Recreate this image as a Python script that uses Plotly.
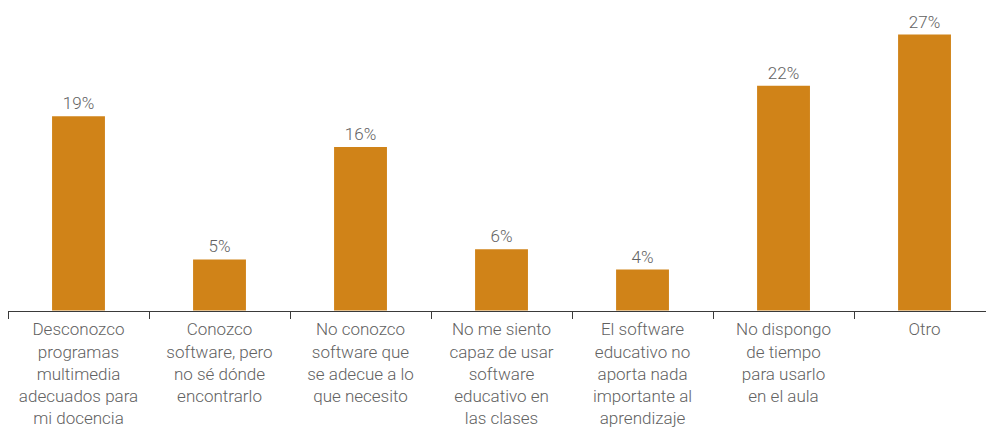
import plotly.graph_objects as go

categories = [
    "Desconozco<br>programas<br>multimedia<br>adecuados para<br>mi docencia",
    "Conozco<br>software, pero<br>no sé dónde<br>encontrarlo",
    "No conozco<br>software que<br>se adecue a lo<br>que necesito",
    "No me siento<br>capaz de usar<br>software<br>educativo en<br>las clases",
    "El software<br>educativo no<br>aporta nada<br>importante al<br>aprendizaje",
    "No dispongo<br>de tiempo<br>para usarlo<br>en el aula",
    "Otro",
]
percentages = [19, 5, 16, 6, 4, 22, 27]

BAR_COLOR = "#D08318"
TEXT_COLOR = "#626262"
FONT = "Roboto, sans-serif"

fig = go.Figure(
    go.Bar(
        x=categories,
        y=percentages,
        marker=dict(color=BAR_COLOR, line=dict(width=0)),
        width=0.375,
        text=[f"{v}%" for v in percentages],
        textposition="outside",
        cliponaxis=False,
        textfont=dict(family=FONT, size=17, color=TEXT_COLOR, weight=300),
    )
)

fig.update_layout(
    width=986,
    height=427,
    margin=dict(l=8, r=0, t=0, b=116),
    paper_bgcolor="white",
    plot_bgcolor="white",
    showlegend=False,
    font=dict(family=FONT, size=17, color=TEXT_COLOR, weight=300),
)

fig.update_xaxes(
    type="category",
    range=[-0.5, 6.436],
    showline=True,
    linecolor="#3a3a3a",
    linewidth=1,
    ticks="outside",
    tickson="boundaries",
    ticklen=7,
    tickcolor="#3a3a3a",
    tickwidth=1,
    showgrid=False,
    zeroline=False,
    tickfont=dict(family=FONT, size=17, color=TEXT_COLOR, weight=300),
    ticklabelstandoff=3,
)

fig.update_yaxes(
    range=[-0.05, 30.38],
    visible=False,
    showgrid=False,
    zeroline=False,
)

fig.write_html("out.html")
